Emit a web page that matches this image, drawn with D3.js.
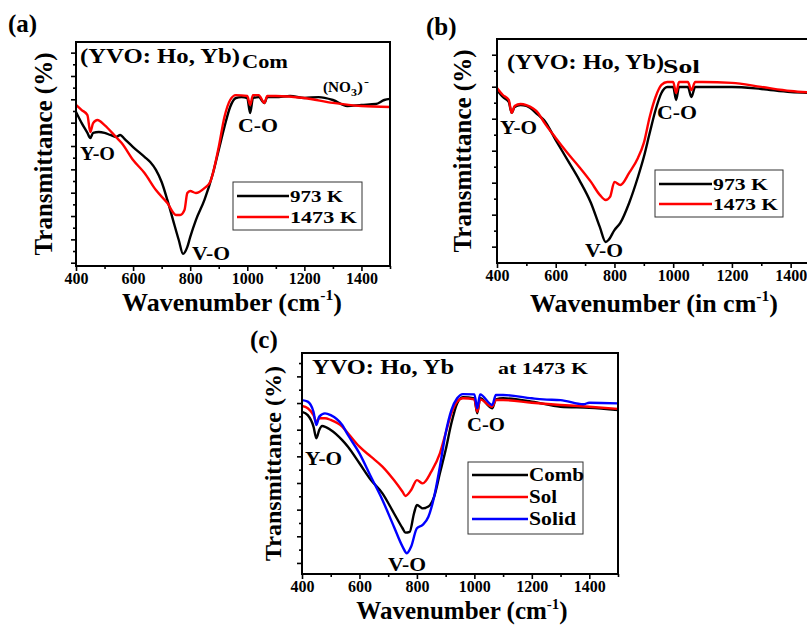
<!DOCTYPE html>
<html><head><meta charset="utf-8">
<script src="https://cdn.jsdelivr.net/npm/d3@7/dist/d3.min.js"></script>
<style>body{margin:0;background:#fff}svg{display:block}</style>
</head><body>
<script>
// ---------- data ----------
const xTickLabels = [400, 600, 800, 1000, 1200, 1400];
const xMinorTicks = [500, 700, 900, 1100, 1300, 1500];

// panel (a) combustion
const aWave = [400,420,440,450,460,480,500,520,540,555,570,600,640,660,680,700,720,740,760,775,790,800,820,850,880,900,920,940,960,980,1000,1010,1020,1040,1060,1070,1100,1150,1200,1250,1300,1350,1400,1450,1480,1500];
const a973 = [68.8,63.8,59.4,57.1,59.4,59.8,59.4,58.5,57.6,58.5,56.7,53.1,48.7,46.4,42.9,37.5,29.5,20.5,11.6,5.4,8.5,12.9,20.5,29.5,41.5,51.8,62.1,71.0,75.0,75.4,75.0,68.3,75.0,75.4,72.8,75.4,75.4,75.9,75.0,75.4,74.1,71.4,71.9,72.3,74.1,74.6];
const aWaveR = [400,420,440,450,460,475,500,540,560,600,640,680,720,750,765,780,790,800,820,850,870,900,920,940,960,1000,1010,1020,1040,1060,1070,1100,1200,1300,1400,1500];
const a1473 = [71.9,69.6,67.4,59.8,63.8,65.2,62.9,57.6,54.9,47.3,41.5,33.9,28.1,22.8,22.8,25.0,32.6,33.5,32.6,34.8,37.5,53.1,66.5,74.1,76.3,75.9,71.9,76.3,76.3,72.8,75.9,75.9,75.0,72.8,71.4,71.0];

// panel (b) sol-gel
const bWave = [400,420,440,450,460,480,500,540,560,600,640,680,720,750,770,780,800,820,850,880,900,920,940,960,980,1000,1010,1020,1050,1062,1075,1100,1200,1300,1400,1500];
const b973 = [77.2,74.1,71.9,67.0,69.6,70.5,70.1,66.1,63.8,54.9,46.0,37.1,26.8,16.1,9.4,10.3,14.7,17.9,26.8,38.4,47.3,58.0,68.3,75.9,78.6,78.6,72.8,78.6,78.6,74.1,78.6,78.6,78.6,77.7,76.3,75.9];
const bWaveR = [400,420,440,450,460,480,500,540,560,600,640,680,720,750,770,785,800,820,850,880,900,920,940,960,980,1000,1010,1020,1050,1062,1075,1100,1200,1300,1400,1500];
const b1473 = [78.1,75.0,72.8,67.0,70.1,71.0,70.5,67.0,62.9,55.8,49.1,42.9,36.2,30.4,28.1,29.5,36.2,34.8,40.2,46.9,53.6,65.2,74.1,79.5,80.8,80.8,75.9,80.8,80.8,77.2,80.8,80.8,80.4,78.6,76.8,75.9];

// panel (c) at 1473 K
const cWaveComb = [400,420,440,450,460,470,500,540,560,600,640,680,720,750,760,775,790,800,820,840,860,880,900,920,940,960,1000,1010,1020,1062,1075,1100,1200,1300,1400,1500];
const cComb = [73.4,71.9,66.7,61.4,65.2,67.0,65.2,60.6,57.6,50.1,42.5,36.5,27.5,20.7,18.7,19.1,27.5,31.2,29.7,30.5,35.0,45.6,56.1,68.2,77.2,80.0,79.5,72.7,79.5,75.0,79.0,79.5,78.0,75.7,75.2,74.2];
const cWaveSol = [400,420,440,450,460,480,500,540,560,600,640,680,720,750,760,780,800,820,850,880,900,920,940,960,1000,1010,1020,1062,1075,1100,1200,1300,1400,1500];
const cSol = [76.0,75.0,71.9,68.9,70.5,70.5,69.7,66.7,63.7,57.6,53.1,48.6,42.5,37.2,35.3,38.0,42.5,41.0,46.3,54.6,63.7,72.7,78.0,79.5,79.0,73.4,79.0,75.7,78.7,78.7,77.5,76.5,75.7,74.7];
const cWaveSolid = [400,420,440,450,460,480,500,540,560,600,640,680,720,750,765,780,800,820,840,860,880,900,920,940,960,1000,1010,1020,1062,1075,1100,1200,1240,1300,1380,1400,1500];
const cSolid = [78.7,78.0,73.4,67.4,71.2,72.7,71.9,67.4,62.9,54.6,44.0,33.5,21.4,12.4,9.4,12.4,20.7,22.2,25.9,35.0,48.6,63.7,74.2,79.5,81.4,81.3,75.0,81.3,76.5,81.0,81.0,79.5,79.0,78.7,76.8,77.5,77.2];

const legendA = ["973 K", "1473 K"];
const legendC = ["Comb", "Sol", "Solid"];

// ---------- drawing ----------
const FONT = "'Liberation Serif', 'DejaVu Serif', serif";
const W = 807, H = 625;
const svg = d3.select("body").append("svg").attr("width", W).attr("height", H)
  .attr("font-family", FONT).attr("font-weight", "bold");

function zip(xs, ys){ return xs.map((x,i)=>({x, y: ys[i]})); }
function txt(sel){ return sel.attr("font-family", FONT).attr("font-weight","bold").attr("fill","#000"); }
function stretch(sel, len){ if (len) sel.attr("textLength", len).attr("lengthAdjust","spacingAndGlyphs"); return sel; }

function panel(cfg){
  const g = svg.append("g");
  const x = d3.scaleLinear().domain([400,1500]).range([cfg.left, cfg.right]);
  const y = d3.scaleLinear().domain([0,100]).range([cfg.bottom, cfg.top]);
  const line = d3.line().x(d=>x(d.x)).y(d=>y(d.y)).curve(d3.curveMonotoneX);
  const clipId = "clip" + cfg.id;
  svg.append("clipPath").attr("id", clipId).append("rect")
    .attr("x", cfg.left).attr("y", cfg.top).attr("width", cfg.right-cfg.left).attr("height", cfg.bottom-cfg.top);
  const pg = g.append("g").attr("clip-path", `url(#${clipId})`);
  cfg.series.forEach(s=>{
    pg.append("path").datum(zip(s.x, s.y)).attr("d", line)
      .attr("fill","none").attr("stroke", s.color).attr("stroke-width", 2.4).attr("stroke-linejoin","round");
  });
  g.append("rect").attr("x", cfg.left).attr("y", cfg.top).attr("width", cfg.right-cfg.left).attr("height", cfg.bottom-cfg.top)
    .attr("fill","none").attr("stroke","#000").attr("stroke-width",2);
  const xa = g.append("g").attr("transform", `translate(0,${cfg.bottom})`)
    .call(d3.axisBottom(x).tickValues(xTickLabels).tickFormat(d3.format("d")).tickSize(5).tickPadding(2));
  xa.attr("font-family", FONT);
  xa.select(".domain").remove();
  xa.selectAll("line").attr("stroke-width",1.6);
  txt(xa.selectAll("text")).attr("font-size", 16);
  const xm = g.append("g").attr("transform", `translate(0,${cfg.bottom})`)
    .call(d3.axisBottom(x).tickValues(xMinorTicks).tickFormat("").tickSize(3));
  xm.select(".domain").remove();
  xm.selectAll("line").attr("stroke-width",1.6);
  const yt = d3.range(cfg.nTicks).map(i=>cfg.tStart + i*cfg.tStep);
  const ya = g.append("g").attr("transform", `translate(${cfg.left},0)`)
    .call(d3.axisLeft(y).tickValues(yt).tickFormat("").tickSize(5));
  ya.select(".domain").remove();
  ya.selectAll(".tick line").attr("stroke-width",1.6).attr("x2",(d,i)=> i%2===0 ? -5 : -3);
  txt(g.append("text")).attr("transform", `translate(${cfg.ytx},${(cfg.top+cfg.bottom)/2}) rotate(-90)`)
    .attr("text-anchor","middle").attr("font-size", cfg.ytSize).text("Transmittance (%)");
  const xt = txt(g.append("text")).attr("x", cfg.xtx).attr("y", cfg.xty).attr("text-anchor","middle").attr("font-size", cfg.xtSize);
  xt.append("tspan").text(cfg.xtitle);
  xt.append("tspan").attr("font-size", cfg.xtSize*0.6).attr("dy", -cfg.xtSize*0.42).text("-1");
  xt.append("tspan").attr("dy", cfg.xtSize*0.42).text(")");
  txt(g.append("text")).attr("x", cfg.letterX).attr("y", cfg.letterY).attr("font-size", 25).text(cfg.letter);
  const L = cfg.legend;
  g.append("rect").attr("x", L.x).attr("y", L.y).attr("width", L.w).attr("height", L.h)
    .attr("fill","#fff").attr("stroke","#333").attr("stroke-width",1);
  cfg.series.forEach((s,i)=>{
    const yy = L.y + L.pad + i*L.row;
    g.append("line").attr("x1", L.x+4).attr("x2", L.x+4+L.len).attr("y1", yy).attr("y2", yy)
      .attr("stroke", s.color).attr("stroke-width", 2.4);
    stretch(txt(g.append("text")).attr("x", L.x+5+L.len).attr("y", yy+6).attr("font-size", L.fs).text(s.name), L.widths[i]);
  });
  cfg.notes.forEach(n=>{
    n.parts.forEach(p=>{
      stretch(txt(g.append("text")).attr("x", p.x).attr("y", p.y).attr("font-size", p.fs).text(p.t), p.len);
    });
  });
}

panel({
  id:"a", left:76, right:390, top:42, bottom:266,
  nTicks:19, tStart:1.47, tStep:5.21,
  ytx:52, ytSize:25, xtx:232, xty:311, xtSize:26, xtitle:"Wavenumber (cm",
  letter:"(a)", letterX:8, letterY:32,
  series:[{name:legendA[0], color:"#000", x:aWave, y:a973},{name:legendA[1], color:"#ff0000", x:aWaveR, y:a1473}],
  legend:{x:233, y:182, w:129, h:48, pad:14, row:21, len:52, fs:17, widths:[53,67]},
  notes:[
    {parts:[{x:80, y:63, fs:20, t:"(YVO: Ho, Yb)", len:160},{x:242, y:68, fs:18, t:"Com", len:46}]},
    {parts:[{x:323, y:92, fs:14, t:"(NO", len:28},{x:351, y:96, fs:11, t:"3", len:6},{x:357, y:92, fs:14, t:")", len:6},{x:364, y:85, fs:11, t:"-", len:5}]},
    {parts:[{x:80, y:160, fs:18, t:"Y-O", len:35}]},
    {parts:[{x:192, y:260, fs:18, t:"V-O", len:38}]},
    {parts:[{x:238, y:132, fs:18, t:"C-O", len:40}]}
  ]
});

panel({
  id:"b", left:497, right:820, top:39, bottom:263,
  nTicks:13, tStart:7.3, tStep:7.14,
  ytx:471, ytSize:25, xtx:654, xty:312, xtSize:26, xtitle:"Wavenumber (in cm",
  letter:"(b)", letterX:426, letterY:35,
  series:[{name:legendA[0], color:"#000", x:bWave, y:b973},{name:legendA[1], color:"#ff0000", x:bWaveR, y:b1473}],
  legend:{x:655, y:170, w:128, h:47, pad:14, row:20, len:53, fs:17, widths:[55,65]},
  notes:[
    {parts:[{x:507, y:69, fs:20, t:"(YVO: Ho, Yb)", len:157},{x:663, y:73, fs:18, t:"Sol", len:37}]},
    {parts:[{x:500, y:134, fs:18, t:"Y-O", len:37}]},
    {parts:[{x:585, y:257, fs:18, t:"V-O", len:38}]},
    {parts:[{x:657, y:119, fs:18, t:"C-O", len:40}]}
  ]
});

panel({
  id:"c", left:302, right:618, top:353, bottom:574,
  nTicks:16, tStart:5.0, tStep:6.03,
  ytx:281, ytSize:24, xtx:462, xty:619, xtSize:25, xtitle:"Wavenumber (cm",
  letter:"(c)", letterX:250, letterY:348,
  series:[{name:legendC[0], color:"#000", x:cWaveComb, y:cComb},{name:legendC[1], color:"#ff0000", x:cWaveSol, y:cSol},{name:legendC[2], color:"#0000ff", x:cWaveSolid, y:cSolid}],
  legend:{x:468, y:462, w:115, h:72, pad:13, row:22, len:56, fs:18, widths:[55,28,47]},
  notes:[
    {parts:[{x:312, y:374, fs:21, t:"YVO: Ho, Yb", len:142}]},
    {parts:[{x:498, y:374, fs:16, t:"at 1473 K", len:90}]},
    {parts:[{x:305, y:465, fs:18, t:"Y-O", len:37}]},
    {parts:[{x:388, y:571, fs:18, t:"V-O", len:38}]},
    {parts:[{x:467, y:431, fs:18, t:"C-O", len:38}]}
  ]
});
</script>
</body></html>
